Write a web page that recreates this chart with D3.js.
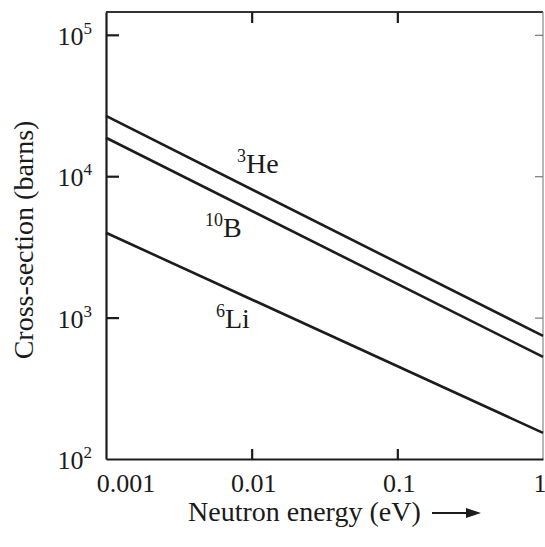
<!DOCTYPE html>
<html>
<head>
<meta charset="utf-8">
<script src="https://cdn.jsdelivr.net/npm/d3@7"></script>
<style>
  html, body { margin: 0; padding: 0; background: #fff; }
  svg { display: block; }
  svg text { font-family: "Liberation Serif", "Times New Roman", Tinos, "Nimbus Roman", "DejaVu Serif", "Noto Serif", serif; fill: #1a1a1a; }
</style>
</head>
<body>
<svg id="chart" width="545" height="547"></svg>
<script>
// ---- data ----
const energies = [0.001, 1];                 // eV
const he3Values = [26700, 742];              // barns
const b10Values = [18700, 527];
const li6Values = [3980, 153];
const seriesNames = ["He", "B", "Li"];
const seriesMass = ["3", "10", "6"];
const xTickValues = [0.001, 0.01, 0.1, 1];
const xTickLabels = ["0.001", "0.01", "0.1", "1"];
const yTickValues = [1e2, 1e3, 1e4, 1e5];
const yTickExps = ["2", "3", "4", "5"];

// ---- layout ----
const svg = d3.select("#chart");
const ink = "#1c1c1c";
const serif = '"Liberation Serif", "Times New Roman", Tinos, "Nimbus Roman", "DejaVu Serif", "Noto Serif", serif';
const mLeft = 106, mRight = 543, mTop = 12, mBottom = 459;

const x = d3.scaleLog().domain([0.001, 1]).range([mLeft, mRight]);
const y = d3.scaleLog().domain([100, 1.45e5]).range([mBottom, mTop]);

// frame
svg.append("line").attr("x1", mLeft).attr("x2", mRight).attr("y1", mTop).attr("y2", mTop)
  .attr("stroke", "#333").attr("stroke-width", 2);
svg.append("line").attr("x1", mRight).attr("x2", mRight).attr("y1", mTop).attr("y2", mBottom)
  .attr("stroke", "#888").attr("stroke-width", 1.2);

// left axis (ticks inward)
const gL = svg.append("g").attr("transform", `translate(${mLeft},0)`)
  .call(d3.axisRight(y).tickValues(yTickValues.slice(1)).tickSizeInner(13).tickSizeOuter(0).tickFormat(""));
// bottom axis
const gB = svg.append("g").attr("transform", `translate(0,${mBottom})`)
  .call(d3.axisTop(x).tickValues(xTickValues.slice(1, 3)).tickSizeInner(10).tickSizeOuter(0).tickFormat(""));
// top axis ticks
const gT = svg.append("g").attr("transform", `translate(0,${mTop})`)
  .call(d3.axisBottom(x).tickValues(xTickValues.slice(1, 3)).tickSizeInner(11).tickSizeOuter(0).tickFormat(""));
// right axis ticks
const gR = svg.append("g").attr("transform", `translate(${mRight},0)`)
  .call(d3.axisLeft(y).tickValues(yTickValues.slice(1)).tickSizeInner(8).tickSizeOuter(0).tickFormat(""));

[gL, gB, gT].forEach(g => {
  g.selectAll("path.domain").attr("stroke", ink).attr("stroke-width", 2.2);
  g.selectAll(".tick line").attr("stroke", ink).attr("stroke-width", 2.2);
});
gT.select("path.domain").remove();
gR.select("path.domain").remove();
gR.selectAll(".tick line").attr("stroke", "#777").attr("stroke-width", 1.2);

// y tick labels
yTickValues.forEach((v, i) => {
  const t = svg.append("text")
    .attr("x", 92).attr("y", y(v) + 10)
    .attr("text-anchor", "end")
    .attr("font-family", serif)
    .style("font-size", "26px");
  t.append("tspan").text("10");
  t.append("tspan").attr("dy", -11).style("font-size", "17px").text(yTickExps[i]);
});

// x tick labels
const xLabelShift = [20, 2, 2, -3];
xTickValues.forEach((v, i) => {
  svg.append("text")
    .attr("x", x(v) + xLabelShift[i]).attr("y", 492)
    .attr("text-anchor", "middle")
    .attr("font-family", serif)
    .style("font-size", "26px")
    .text(xTickLabels[i]);
});

// axis titles
svg.append("text")
  .attr("transform", "translate(33,240) rotate(-90)")
  .attr("text-anchor", "middle")
  .attr("font-family", serif)
  .style("font-size", "28px")
  .text("Cross-section (barns)");

svg.append("text")
  .attr("x", 188).attr("y", 521)
  .attr("text-anchor", "start")
  .attr("font-family", serif)
  .style("font-size", "28px")
  .text("Neutron energy (eV)");

// arrow
svg.append("line").attr("x1", 432).attr("x2", 470).attr("y1", 513).attr("y2", 513)
  .attr("stroke", ink).attr("stroke-width", 2);
svg.append("path").attr("d", "M466,508 L481,513 L466,518 Z").attr("fill", ink);

// series lines
const line = d3.line().x(d => x(d[0])).y(d => y(d[1]));
[he3Values, b10Values, li6Values].forEach(vals => {
  svg.append("path")
    .datum(energies.map((e, i) => [e, vals[i]]))
    .attr("d", line)
    .attr("fill", "none")
    .attr("stroke", ink)
    .attr("stroke-width", 2.6);
});

// series labels
const labelPos = [[237, 173], [205, 237], [216, 328]];
seriesNames.forEach((n, i) => {
  const t = svg.append("text")
    .attr("x", labelPos[i][0]).attr("y", labelPos[i][1])
    .attr("font-family", serif)
    .style("font-size", "28px");
  t.append("tspan").attr("dy", -11).style("font-size", "18px").text(seriesMass[i]);
  t.append("tspan").attr("dy", 11).text(n);
});
</script>
</body>
</html>
